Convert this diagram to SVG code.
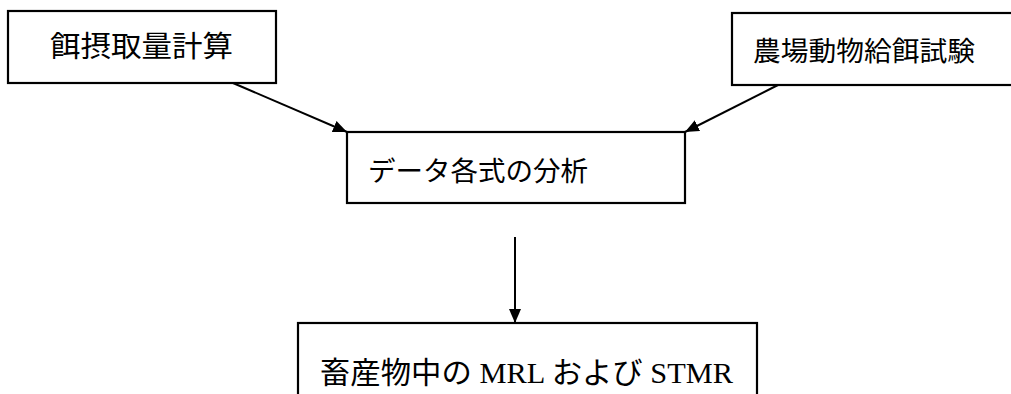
<svg xmlns="http://www.w3.org/2000/svg" width="1011" height="394" viewBox="0 0 1011 394">
<style>
.box{fill:#fff;stroke:#000;stroke-width:2.2}
.t{font-family:"Noto Sans CJK JP",sans-serif;fill:#000;dominant-baseline:central}
.s{font-family:"Liberation Serif","Noto Sans CJK JP",serif;fill:#000;dominant-baseline:central}
.c{stroke:#000;stroke-width:2;fill:none;marker-end:url(#ah)}
</style>
<defs>
<marker id="ah" viewBox="0 0 14 12" refX="14" refY="6" markerWidth="14" markerHeight="12" markerUnits="userSpaceOnUse" orient="auto">
<path d="M0,0 L14,6 L0,12 Z" fill="#000"/>
</marker>
</defs>
<rect width="1011" height="394" fill="#fff"/>
<g id="n1"><rect class="box" x="8" y="11" width="268" height="72"/><text class="t" x="50" y="44" font-size="29" textLength="183" lengthAdjust="spacingAndGlyphs">餌摂取量計算</text></g>
<g id="n2"><rect class="box" x="732" y="13" width="290" height="72"/><text class="t" x="753" y="49" font-size="27" textLength="222" lengthAdjust="spacingAndGlyphs">農場動物給餌試験</text></g>
<g id="n3"><rect class="box" x="347" y="132" width="338" height="71"/><text class="t" x="368" y="169" font-size="27" textLength="220" lengthAdjust="spacingAndGlyphs">データ各式の分析</text></g>
<g id="n4"><rect class="box" x="298" y="323" width="459" height="100"/><text class="s" x="320" y="372" font-size="30" textLength="413" lengthAdjust="spacingAndGlyphs">畜産物中の MRL および STMR</text></g>
<g id="connectors">
<line class="c" x1="233" y1="83" x2="347" y2="132"/>
<line class="c" x1="778" y1="85" x2="685" y2="132"/>
<line class="c" x1="515" y1="237" x2="515" y2="323"/>
</g>
</svg>
